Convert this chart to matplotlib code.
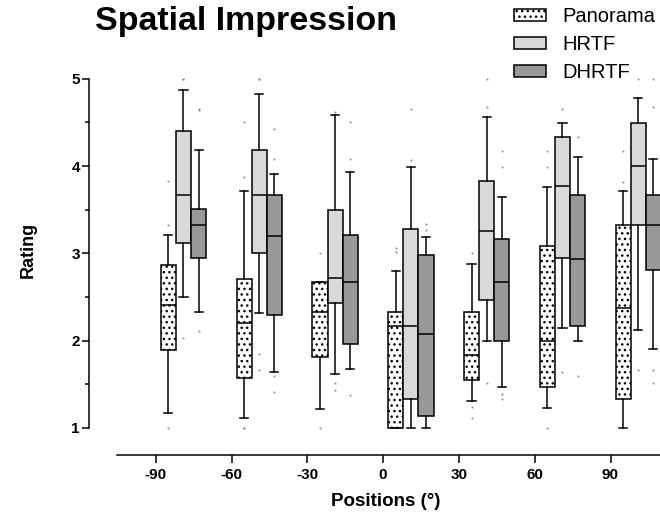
import matplotlib
matplotlib.use("Agg")
import matplotlib.pyplot as plt
from matplotlib.patches import Patch

plt.rcParams["font.family"] = ["Liberation Sans", "DejaVu Sans"]
plt.rcParams["hatch.linewidth"] = 1.0

# Source positions (degrees)
positions = [-90, -60, -30, 0, 30, 60, 90]
methods = ["Panorama", "HRTF", "DHRTF"]

# Box statistics per method (one value per position)
pan_whislo = [1.17, 1.11, 1.22, 1.00, 1.31, 1.23, 1.00]
pan_q1 = [1.89, 1.57, 1.81, 1.00, 1.55, 1.47, 1.33]
pan_med = [2.41, 2.20, 2.33, 2.17, 1.83, 2.00, 2.37]
pan_q3 = [2.87, 2.71, 2.67, 2.33, 2.33, 3.08, 3.33]
pan_whishi = [3.21, 3.71, 2.67, 2.80, 2.88, 3.76, 3.71]
pan_out = [[3.33, 3.83, 1.0], [4.50, 3.88, 1.0, 1.0], [3.0, 1.0], [3.06, 3.01],
           [3.0, 1.24, 1.11], [4.17, 3.99, 1.0], [4.17, 3.82]]

hrtf_whislo = [2.50, 2.31, 1.62, 1.00, 2.00, 2.14, 2.12]
hrtf_q1 = [3.12, 3.00, 2.43, 1.33, 2.46, 2.95, 3.33]
hrtf_med = [3.67, 3.67, 2.72, 2.17, 3.25, 3.77, 4.00]
hrtf_q3 = [4.40, 4.18, 3.50, 3.28, 3.83, 4.33, 4.49]
hrtf_whishi = [4.87, 4.83, 4.59, 3.99, 4.56, 4.49, 4.78]
hrtf_out = [[5.0, 5.0, 2.03], [5.0, 5.0, 1.84, 1.66], [4.62, 1.51, 1.43], [4.66, 4.07],
            [5.0, 4.68, 1.51], [4.65, 1.64], [5.0, 1.66]]

dhrtf_whislo = [2.33, 1.64, 1.67, 1.00, 1.47, 2.00, 1.90]
dhrtf_q1 = [2.95, 2.29, 1.96, 1.13, 2.00, 2.17, 2.81]
dhrtf_med = [3.33, 3.20, 2.67, 2.08, 2.67, 2.94, 3.33]
dhrtf_q3 = [3.51, 3.67, 3.21, 2.98, 3.16, 3.67, 3.67]
dhrtf_whishi = [4.18, 3.91, 3.93, 3.19, 3.64, 4.10, 4.08]
dhrtf_out = [[4.66, 4.64, 2.11], [4.43, 4.08, 1.59, 1.41], [4.50, 4.08, 1.37], [3.34, 3.27],
             [4.17, 3.99, 1.39, 1.33], [4.33, 1.59], [4.68, 5.0, 1.66, 1.51]]

y_ticks = [1, 2, 3, 4, 5]

groups = [
    (pan_whislo, pan_q1, pan_med, pan_q3, pan_whishi, pan_out),
    (hrtf_whislo, hrtf_q1, hrtf_med, hrtf_q3, hrtf_whishi, hrtf_out),
    (dhrtf_whislo, dhrtf_q1, dhrtf_med, dhrtf_q3, dhrtf_whishi, dhrtf_out),
]
offsets = [5.0, 11.0, 17.0]
facecolors = ["white", "#d9d9db", "#98989b"]
hatches = ["...", None, None]

W, H = 660, 516
fig = plt.figure(figsize=(W / 100, H / 100), dpi=100)

# axes frame in pixel terms
ax_left, ax_right, ax_bottom, ax_top = 117.3, 660.0, 455.3, 40.0
ax = fig.add_axes([ax_left / W, (H - ax_bottom) / H,
                   (ax_right - ax_left) / W, (ax_bottom - ax_top) / H])

px_per_unit = 87.2
y_one = 427.7
ax.set_ylim(1 - (ax_bottom - y_one) / px_per_unit, 1 + (y_one - ax_top) / px_per_unit)
px_per_deg = 75.8 / 30
tick_m90 = 155.7
ax.set_xlim(-90 - (tick_m90 - ax_left) / px_per_deg,
            -90 + (ax_right - tick_m90) / px_per_deg)

lw = 1.1
for (wlo, q1, med, q3, whi, out), off, fc, ht in zip(groups, offsets, facecolors, hatches):
    stats = []
    for i in range(len(positions)):
        stats.append(dict(whislo=wlo[i], q1=q1[i], med=med[i], q3=q3[i],
                          whishi=whi[i], fliers=out[i]))
    bp = ax.bxp(stats, positions=[p + off for p in positions], widths=6.0,
                patch_artist=True, showfliers=True, capwidths=3.2,
                boxprops=dict(facecolor=fc, edgecolor="black", linewidth=lw, hatch=ht),
                whiskerprops=dict(color="black", linewidth=lw),
                capprops=dict(color="black", linewidth=lw),
                medianprops=dict(color="black", linewidth=lw),
                flierprops=dict(marker="s", markersize=1.3, markerfacecolor="#8a8a8a",
                                markeredgecolor="none", linestyle="none"),
                manage_ticks=False)

# axes styling
for s in ["top", "right"]:
    ax.spines[s].set_visible(False)
ax.spines["left"].set_position(("outward", (ax_left - 89.0) * 0.72))
ax.spines["left"].set_bounds(1, 5)
ax.spines["left"].set_linewidth(lw)
ax.spines["bottom"].set_linewidth(lw)

ax.set_xticks(positions)
ax.set_xticklabels([str(p) for p in positions])
ax.set_yticks(y_ticks)
ax.set_yticklabels([str(v) for v in y_ticks])
ax.set_yticks([1.5, 2.5, 3.5, 4.5], minor=True)
ax.tick_params(axis="x", which="major", length=5.8, width=lw, pad=3.2,
               labelsize=11)
ax.tick_params(axis="y", which="major", length=5.0, width=lw, pad=1.5,
               labelsize=11)
ax.tick_params(axis="y", which="minor", length=3.0, width=lw)
for lab in ax.get_xticklabels() + ax.get_yticklabels():
    lab.set_fontweight("bold")

# titles and axis labels
fig.text(95 / W, (H - 30) / H, "Spatial Impression", fontsize=24.5,
         fontweight="bold", ha="left", va="baseline")
fig.text(28 / W, (H - 250) / H, "Rating", fontsize=13, fontweight="bold",
         rotation=90, ha="center", va="center")
fig.text(386 / W, (H - 506.5) / H, "Positions (°)", fontsize=13.5,
         fontweight="bold", ha="center", va="baseline")

# legend
handles = [Patch(facecolor=fc, edgecolor="black", linewidth=lw, hatch=ht)
           for fc, ht in zip(facecolors, hatches)]
fig.legend(handles, methods, loc="upper left", bbox_to_anchor=(510 / W, (H - 3) / H),
           frameon=False, fontsize=14.5, handlelength=1.6, handleheight=0.5,
           handletextpad=0.8, labelspacing=0.45, borderaxespad=0.0,
           borderpad=0.2)

fig.savefig("out.png", dpi=100)
